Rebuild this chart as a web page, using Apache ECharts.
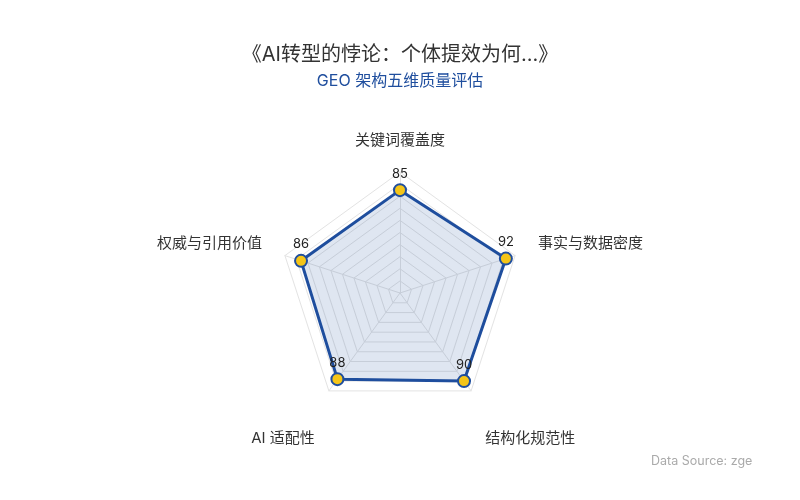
<!DOCTYPE html>
<html>
<head>
<meta charset="utf-8">
<script src="https://cdn.jsdelivr.net/npm/echarts@6/dist/echarts.min.js"></script>
<style>html,body{margin:0;padding:0;background:#fff}#c{width:800px;height:500px}</style>
</head>
<body>
<div id="c"></div>
<script>
// Data (indicator order follows ECharts' counter-clockwise placement from the top)
const indicatorNames = ['关键词覆盖度', '权威与引用价值', 'AI 适配性', '结构化规范性', '事实与数据密度'];
const indicatorMax = [100, 100, 100, 100, 100];
const scores = [85, 86, 88, 90, 92];
const titleText = '《AI转型的悖论：个体提效为何...》';
const subtitleText = 'GEO 架构五维质量评估';
const sourceText = 'Data Source: zge';

const FONT = 'Inter, "Noto Sans CJK SC", "Noto Sans", sans-serif';
const nameStyle = {color: '#333', fontSize: 15, fontFamily: FONT};
// label box paddings by position: top, upper sides, lower sides
const nameRich = {
  t: Object.assign({}, nameStyle),
  u: Object.assign({padding: [0, 0, 10, 0]}, nameStyle),
  d: Object.assign({padding: [56, 0, 0, 0]}, nameStyle)
};
const nameKind = ['t', 'u', 'd', 'd', 'u'];

const chart = echarts.init(document.getElementById('c'), null, {renderer: 'canvas'});
chart.setOption({
  backgroundColor: '#fff',
  textStyle: {fontFamily: FONT},
  title: {
    text: titleText,
    subtext: subtitleText,
    left: 'center',
    top: 40,
    itemGap: 8,
    textStyle: {fontSize: 20, fontWeight: 'normal', color: '#333', fontFamily: FONT},
    subtextStyle: {fontSize: 16, color: '#1f4e9e', fontFamily: FONT}
  },
  radar: {
    center: [400, 293],
    radius: 121,
    startAngle: 90,
    splitNumber: 10,
    shape: 'polygon',
    nameGap: 24,
    indicator: indicatorNames.map((n, i) => ({name: n, max: indicatorMax[i], min: 0})),
    axisName: {
      color: '#333', fontSize: 15, fontFamily: FONT,
      formatter: function (name) {
        const k = nameKind[indicatorNames.indexOf(name)] || 't';
        return '{' + k + '|' + name + '}';
      },
      rich: nameRich
    },
    axisLine: {lineStyle: {color: '#e3e3e3'}},
    splitLine: {lineStyle: {color: '#e3e3e3', width: 1}},
    splitArea: {show: false}
  },
  series: [{
    type: 'radar',
    symbol: 'circle',
    symbolSize: 12,
    lineStyle: {color: '#1f4e9e', width: 3},
    itemStyle: {color: '#f5c518', borderColor: '#1f4e9e', borderWidth: 2},
    areaStyle: {color: 'rgba(31,78,158,0.2)'},
    label: {show: true, position: 'top', distance: 3, color: '#222', fontSize: 13, fontFamily: FONT},
    data: [{value: scores, name: 'GEO'}]
  }],
  graphic: [{
    type: 'text',
    left: 651,
    top: 455,
    style: {
      text: sourceText,
      fill: '#aaa',
      font: '12.5px ' + FONT
    }
  }]
});
</script>
</body>
</html>
